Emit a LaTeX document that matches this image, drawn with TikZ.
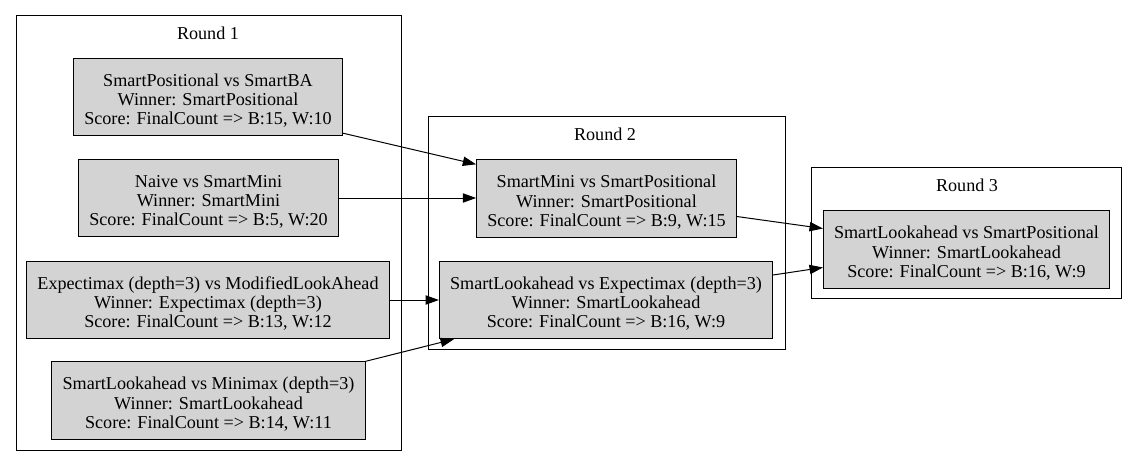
\documentclass[tikz,border=0pt]{standalone}
\usepackage{fontspec}
\setmainfont{Liberation Serif}
\usepackage{xcolor}
\definecolor{matchgray}{RGB}{211,211,211}
\usepackage{tikz}
\usetikzlibrary{calc}
\usetikzlibrary{arrows.meta}
\newcommand{\heightmatch}{58pt}
\newcommand{\gvfont}{\fontsize{13.6}{14.5}\selectfont}
\newcommand{\firstline}{\rule{0pt}{15pt}}
\tikzset{
    common/.style={draw, rectangle, line width=0.75pt},
    match/.style={common, fill=matchgray, align=center, inner xsep=8pt, minimum height=\heightmatch, font=\gvfont},
    cluster/.style={common},
    roundlabel/.style={font=\gvfont, inner sep=0pt},
    edge/.style={-{Triangle[length=10pt, width=7pt]}, line width=0.75pt}
}
\newcommand\match[4]{
  node[match] (#1) {\firstline#2\\Winner: #3\\Score: FinalCount => #4}
}

\begin{document}
\begin{tikzpicture}[x=0.75pt, y=-0.75pt]
          \useasboundingbox (0,0) rectangle (1136,467);

          \draw[cluster] (16,16) rectangle (401,450);
          \draw[cluster] (428,117) rectangle (785,349);
          \draw[cluster] (811,167) rectangle (1121,298);

          \path
              (208,33) node[roundlabel] (round1) {Round 1}
              (605,134) node[roundlabel] (round2) {Round 2}
              (967,185) node[roundlabel] (round3) {Round 3};

          \path
              (208,97) \match{r1-pos-ba}{SmartPositional vs SmartBA}{SmartPositional}{B:15, W:10}
              (208.5,198) \match{r1-naive-mini}{Naive vs SmartMini}{SmartMini}{B:5, W:20}
              (208,300) \match{r1-expmax-mla}{Expectimax (depth=3) vs ModifiedLookAhead}{Expectimax (depth=3)}{B:13, W:12}
              (208.5,400.5) \match{r1-look-minimax}{SmartLookahead vs Minimax (depth=3)}{SmartLookahead}{B:14, W:11};

          \path
              (606.5,198.5) \match{r2-mini-pos}{SmartMini vs SmartPositional}{SmartPositional}{B:9, W:15}
              (606,300) \match{r2-look-expmax}{SmartLookahead vs Expectimax (depth=3)}{SmartLookahead}{B:16, W:9};

          \path
              (966.5,249.5) \match{r3-look-pos}{SmartLookahead vs SmartPositional}{SmartLookahead}{B:16, W:9};

          \draw[edge] ($(r1-pos-ba.south east)+(0,-3)$) -- ($(r2-mini-pos.north west)+(0,5)$);
          \draw[edge] (r1-naive-mini.east) -- (r1-naive-mini.east -| r2-mini-pos.west);
          \draw[edge] (r1-expmax-mla.east) -- (r1-expmax-mla.east -| r2-look-expmax.west);
          \draw[edge] (r1-look-minimax.north east) -- ($(r2-look-expmax.south west)+(15,0)$);
          \draw[edge] ($(r2-mini-pos.east)+(0,18)$) -- ($(r3-look-pos.west)+(0,-21)$);
          \draw[edge] ($(r2-look-expmax.east)+(0,-25)$) -- ($(r3-look-pos.west)+(0,18)$);
        \end{tikzpicture}
\end{document}
